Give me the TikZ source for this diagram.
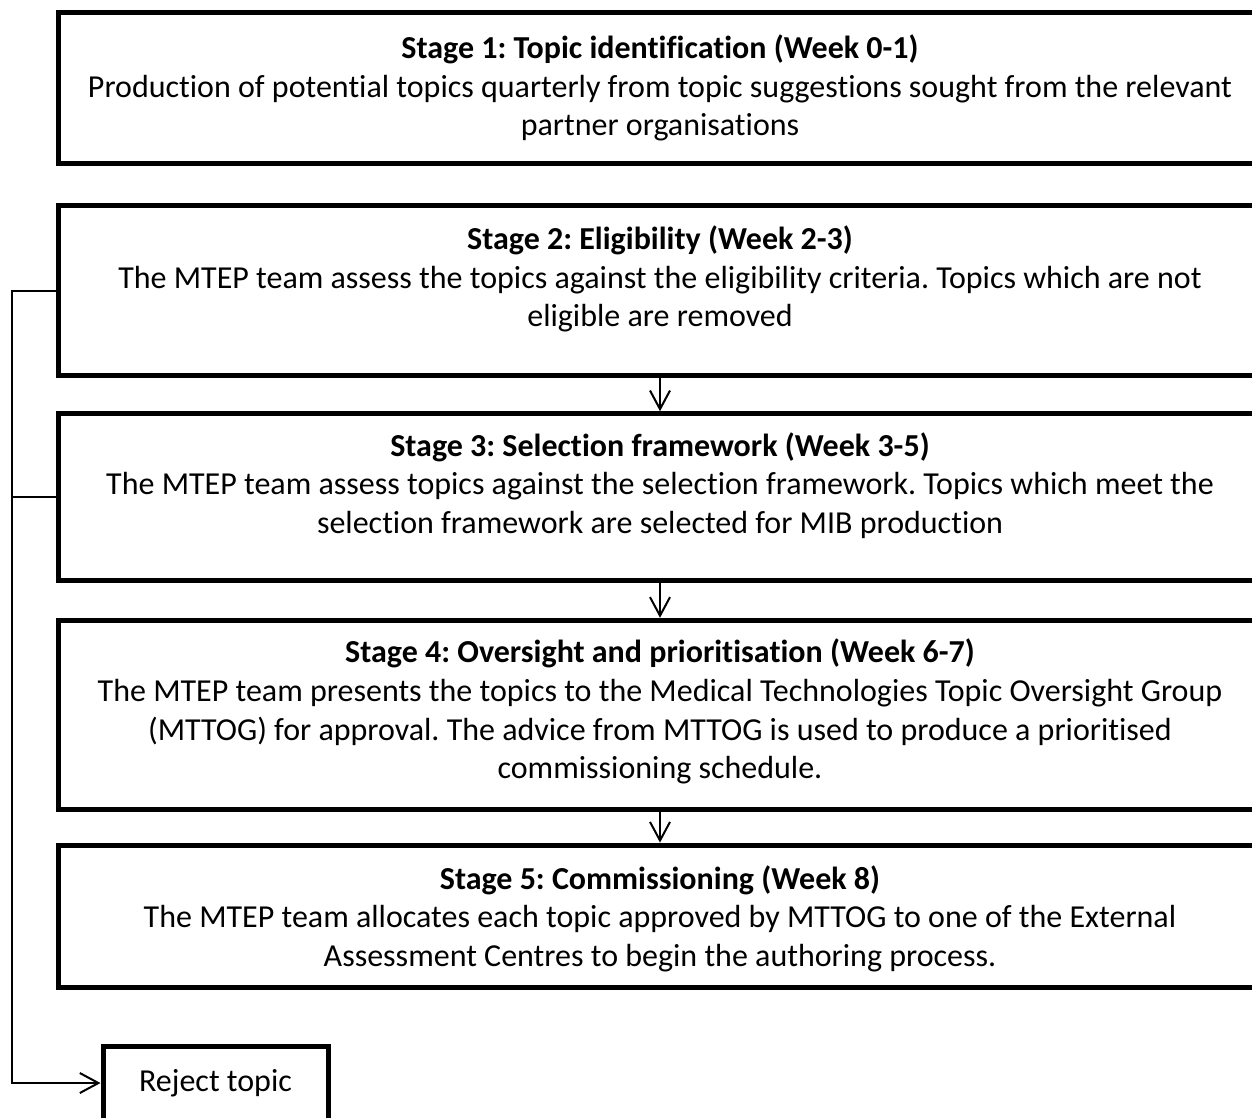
\documentclass[tikz,border=0pt]{standalone}
\usepackage{fontspec}
\setmainfont[Ligatures=NoCommon]{Carlito}
\usetikzlibrary{arrows.meta}
\frenchspacing

\begin{document}
\begin{tikzpicture}[
  x=0.35pt, y=-0.35pt,
  font=\fontsize{11.2}{13.5}\selectfont, >={Straight Barb[length=6.5pt, width=7pt]},
  stage/.style={draw=black, line width=1.75pt, fill=white, align=center, minimum width=421.4pt, inner sep=0pt},
  reject/.style={draw=black, line width=1.75pt, fill=white, minimum width=78.75pt, minimum height=25.9pt, inner sep=0pt},
  link/.style={->, draw=black, line width=0.7pt},
  rail/.style={draw=black, line width=0.7pt}]
\path[use as bounding box, clip] (0,0) rectangle (1252,1117);
% stages
\node[stage, minimum height=53pt] (s1) at (660,88) {\textbf{Stage 1: Topic identification (Week 0-1)}\\Production of potential topics quarterly from topic suggestions sought from the relevant\\partner organisations};
\node[stage, minimum height=59.5pt, text depth=10pt] (s2) at (660,290.5) {\textbf{Stage 2: Eligibility (Week 2-3)}\\The MTEP team assess the topics against the eligibility criteria. Topics which are not\\eligible are removed};
\node[stage, minimum height=58.3pt, text depth=10pt] (s3) at (660,497) {\textbf{Stage 3: Selection framework (Week 3-5)}\\The MTEP team assess topics against the selection framework. Topics which meet the\\selection framework are selected for MIB production};
\node[stage, minimum height=66.3pt, text depth=4.3pt] (s4) at (660,715) {\textbf{Stage 4: Oversight and prioritisation (Week 6-7)}\\The MTEP team presents the topics to the Medical Technologies Topic Oversight Group\\(MTTOG) for approval. The advice from MTTOG is used to produce a prioritised\\commissioning schedule.};
\node[stage, minimum height=50pt, text depth=0.3pt] (s5) at (660,916.5) {\textbf{Stage 5: Commissioning (Week 8)}\\The MTEP team allocates each topic approved by MTTOG to one of the External\\Assessment Centres to begin the authoring process.};
% reject
\node[reject] (rej) at (215.5,1083) {Reject topic};
\coordinate (bus) at (12,290.5);
% links
\draw[link] (s2) -- (s3);
\draw[link] (s3) -- (s4);
\draw[link] (s4) -- (s5);
\draw[link] (s2.west) -- (bus) |- (rej.west);
\draw[rail] (s3.west) -- (s3.west -| bus);
\end{tikzpicture}
\end{document}
